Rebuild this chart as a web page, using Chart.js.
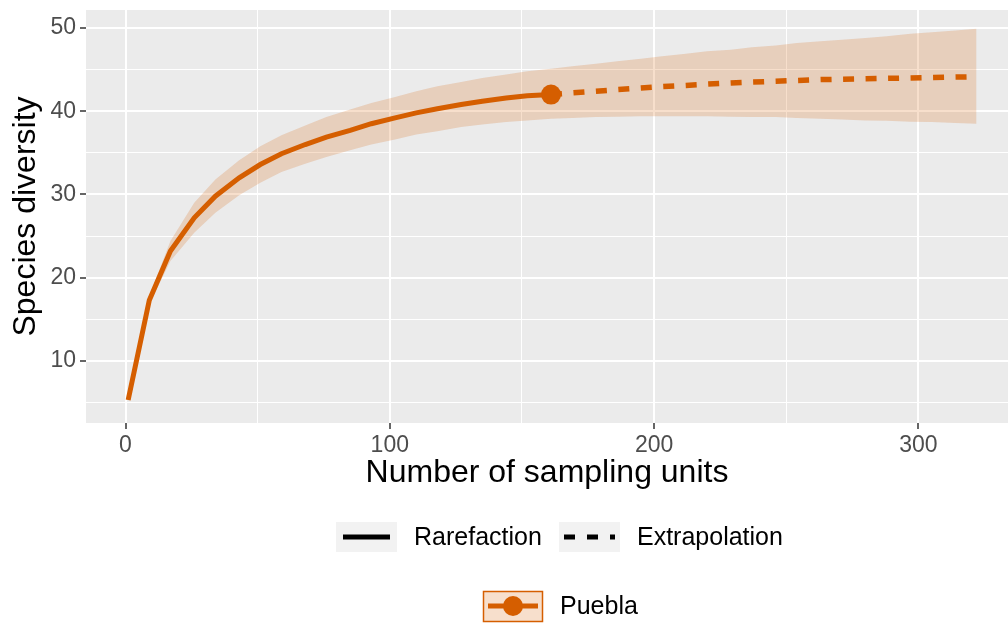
<!DOCTYPE html>
<html>
<head>
<meta charset="utf-8">
<script src="https://cdn.jsdelivr.net/npm/chart.js@4.4.1/dist/chart.umd.min.js"></script>
<style>
  body { margin: 0; background: #fff; }
  canvas { display: block; }
</style>
</head>
<body>
<canvas id="chart" width="1008" height="624"></canvas>
<script>
// sampling units (iNEXT knots) - rarefaction part
const rareX = [1, 9, 17, 26, 34, 43, 51, 59, 68, 76, 85, 93, 102, 110, 118, 127, 135, 144, 152, 161];
const rareY = [5.3, 17.3, 23.2, 27.2, 29.8, 32.0, 33.6, 34.9, 36.0, 36.9, 37.7, 38.5, 39.2, 39.8, 40.3, 40.8, 41.2, 41.6, 41.85, 42.0];
const rareLower = [5.2, 16.8, 22.0, 25.4, 27.8, 29.9, 31.4, 32.7, 33.7, 34.5, 35.3, 36.0, 36.6, 37.2, 37.6, 38.1, 38.4, 38.7, 38.9, 39.1];
const rareUpper = [5.4, 17.8, 24.4, 29.0, 31.8, 34.1, 35.8, 37.1, 38.3, 39.3, 40.2, 41.0, 41.7, 42.4, 43.0, 43.5, 44.0, 44.4, 44.8, 45.1];

// extrapolation part (starts at the observed sample)
const extraX = [161, 169, 178, 186, 195, 203, 212, 220, 229, 237, 246, 254, 263, 271, 280, 288, 297, 305, 314, 322];
const extraY = [42.0, 42.2, 42.4, 42.6, 42.8, 42.95, 43.1, 43.25, 43.4, 43.5, 43.6, 43.7, 43.8, 43.85, 43.9, 43.95, 44.0, 44.05, 44.1, 44.15];
const extraLower = [39.1, 39.2, 39.3, 39.35, 39.4, 39.4, 39.4, 39.4, 39.35, 39.3, 39.3, 39.2, 39.1, 39.0, 38.9, 38.85, 38.75, 38.7, 38.6, 38.5];
const extraUpper = [45.1, 45.4, 45.7, 46.0, 46.3, 46.6, 46.9, 47.2, 47.4, 47.7, 47.9, 48.2, 48.4, 48.6, 48.8, 49.0, 49.3, 49.5, 49.7, 49.9];

// observed sample
const obsX = [161];
const obsY = [42.0];

// axis breaks
const xMajor = [0, 100, 200, 300];
const xMinor = [50, 150, 250];
const yMajor = [10, 20, 30, 40, 50];
const yMinor = [5, 15, 25, 35, 45];

const ORANGE = '#D55E00';
const BAND = 'rgba(213,94,0,0.2)';

const pts = (xs, ys) => xs.map((x, i) => ({ x: x, y: ys[i] }));
const bandX = rareX.concat(extraX.slice(1));
const bandLo = rareLower.concat(extraLower.slice(1));
const bandHi = rareUpper.concat(extraUpper.slice(1));

Chart.defaults.font.family = '"Liberation Sans", Arial, sans-serif';

// grey panel behind the plot
const panelBg = {
    id: 'panelBg',
    beforeDraw(chart) {
        const a = chart.chartArea;
        const ctx = chart.ctx;
        ctx.save();
        ctx.fillStyle = '#EBEBEB';
        ctx.fillRect(a.left, a.top, a.right - a.left, a.bottom - a.top);
        ctx.restore();
    }
};

// the two ggplot-style legends under the plot
const ggLegend = {
    id: 'ggLegend',
    afterDraw(chart) {
        const ctx = chart.ctx;
        ctx.save();
        // key backgrounds
        ctx.fillStyle = '#F2F2F2';
        ctx.fillRect(336, 522, 61, 30);
        ctx.fillRect(559, 522, 61, 30);

        ctx.lineWidth = 5;
        ctx.strokeStyle = '#000';
        ctx.beginPath();
        ctx.moveTo(343, 537); ctx.lineTo(390, 537);
        ctx.stroke();

        ctx.setLineDash([11, 12]);
        ctx.beginPath();
        ctx.moveTo(564, 537); ctx.lineTo(615, 537);
        ctx.stroke();
        ctx.setLineDash([]);

        // Puebla key
        ctx.fillStyle = '#fff';
        ctx.fillRect(483, 591, 60, 31);
        ctx.fillStyle = BAND;
        ctx.fillRect(483, 591, 60, 31);
        ctx.strokeStyle = ORANGE;
        ctx.lineWidth = 1.5;
        ctx.strokeRect(483.5, 591.5, 59, 30);
        ctx.lineWidth = 5;
        ctx.beginPath();
        ctx.moveTo(488, 606); ctx.lineTo(538, 606);
        ctx.stroke();
        ctx.fillStyle = ORANGE;
        ctx.beginPath();
        ctx.arc(513, 606, 10, 0, Math.PI * 2);
        ctx.fill();

        ctx.fillStyle = '#000';
        ctx.font = '25px "Liberation Sans", Arial, sans-serif';
        ctx.textBaseline = 'middle';
        ctx.fillText('Rarefaction', 414, 538);
        ctx.fillText('Extrapolation', 637, 538);
        ctx.fillText('Puebla', 560, 607);
        ctx.restore();
    }
};

const isIn = (arr, v) => arr.some(m => Math.abs(m - v) < 1e-6);

new Chart(document.getElementById('chart'), {
    type: 'line',
    data: {
        datasets: [
            {
                label: 'Observed',
                data: pts(obsX, obsY),
                showLine: false,
                pointRadius: 10,
                pointBackgroundColor: ORANGE,
                pointBorderWidth: 0,
                order: 0
            },
            {
                label: 'Rarefaction',
                data: pts(rareX, rareY),
                borderColor: ORANGE,
                borderWidth: 5,
                pointRadius: 0,
                fill: false,
                order: 1
            },
            {
                label: 'Extrapolation',
                data: pts(extraX, extraY),
                borderColor: ORANGE,
                borderWidth: 5.5,
                borderDash: [11, 11.5],
                borderCapStyle: 'butt',
                pointRadius: 0,
                fill: false,
                order: 2
            },
            {
                label: 'upper',
                data: pts(bandX, bandHi),
                borderWidth: 0,
                pointRadius: 0,
                backgroundColor: BAND,
                fill: '+1',
                order: 3
            },
            {
                label: 'lower',
                data: pts(bandX, bandLo),
                borderWidth: 0,
                pointRadius: 0,
                fill: false,
                order: 4
            }
        ]
    },
    options: {
        responsive: false,
        animation: false,
        devicePixelRatio: 1,
        layout: { autoPadding: false, padding: { left: 0, right: 0, top: 10, bottom: 131 } },
        plugins: {
            legend: { display: false },
            tooltip: { enabled: false }
        },
        scales: {
            x: {
                type: 'linear',
                min: -14.95,
                max: 333.9,
                afterBuildTicks(scale) {
                    scale.ticks = xMajor.concat(xMinor).sort((a, b) => a - b).map(v => ({ value: v }));
                },
                afterFit(scale) {
                    scale.height = 70;
                    scale.paddingLeft = 0;
                    scale.paddingRight = 0;
                },
                border: { display: false },
                grid: {
                    color: '#FFFFFF',
                    lineWidth: ctx => isIn(xMajor, ctx.tick.value) ? 2 : 1,
                    tickColor: ctx => isIn(xMajor, ctx.tick.value) ? '#333333' : 'rgba(0,0,0,0)',
                    tickLength: 6,
                    tickWidth: 1.5
                },
                ticks: {
                    autoSkip: false,
                    maxRotation: 0,
                    padding: 3,
                    color: '#4D4D4D',
                    font: { size: 23 },
                    callback: v => isIn(xMajor, v) ? String(v) : ''
                },
                title: {
                    display: true,
                    text: 'Number of sampling units',
                    color: '#000',
                    font: { size: 32 },
                    padding: { top: 0, bottom: 1 }
                }
            },
            y: {
                min: 2.55,
                max: 52.16,
                afterBuildTicks(scale) {
                    scale.ticks = yMajor.concat(yMinor).sort((a, b) => a - b).map(v => ({ value: v }));
                },
                afterFit(scale) {
                    scale.width = 86;
                    scale.paddingTop = 0;
                    scale.paddingBottom = 0;
                },
                border: { display: false },
                grid: {
                    color: '#FFFFFF',
                    lineWidth: ctx => isIn(yMajor, ctx.tick.value) ? 2 : 1,
                    tickColor: ctx => isIn(yMajor, ctx.tick.value) ? '#333333' : 'rgba(0,0,0,0)',
                    tickLength: 6,
                    tickWidth: 1.5
                },
                ticks: {
                    autoSkip: false,
                    padding: 4,
                    color: '#4D4D4D',
                    font: { size: 23 },
                    callback: v => isIn(yMajor, v) ? String(v) : ''
                },
                title: {
                    display: true,
                    text: 'Species diversity',
                    color: '#000',
                    font: { size: 32 },
                    padding: { top: 7, bottom: 0 }
                }
            }
        }
    },
    plugins: [panelBg, ggLegend]
});
</script>
</body>
</html>
